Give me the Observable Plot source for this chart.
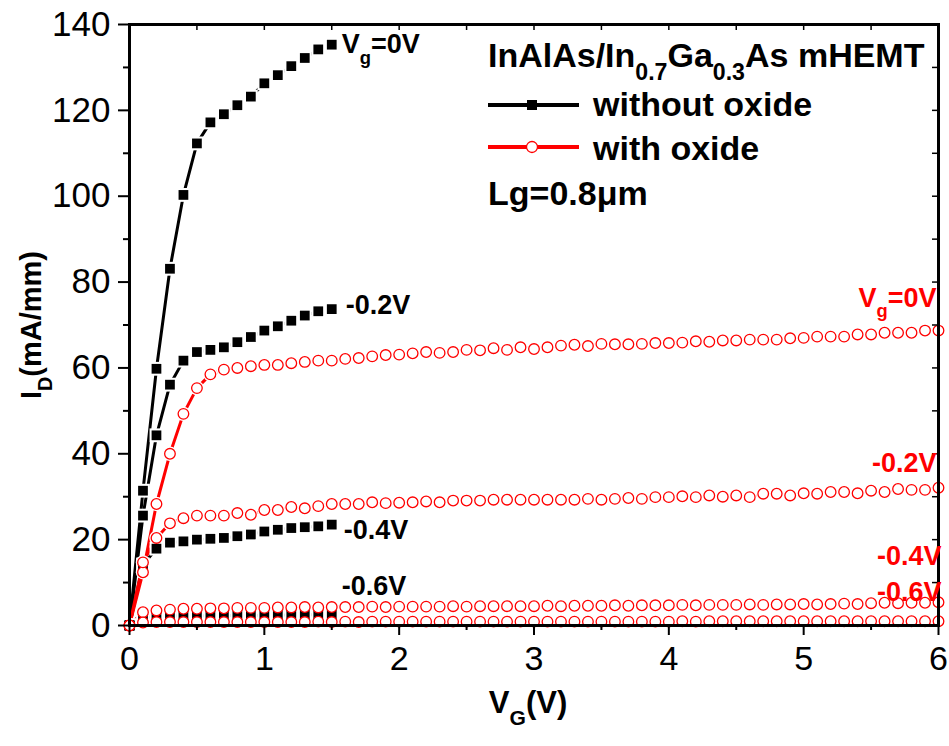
<!DOCTYPE html>
<html><head><meta charset="utf-8">
<script src="https://cdn.jsdelivr.net/npm/d3@7"></script>
<script src="https://cdn.jsdelivr.net/npm/@observablehq/plot@0.6"></script>
<style>
body{margin:0;background:#fff}
#chart svg{font-family:"Liberation Sans",Arial,sans-serif;display:block}
</style>
</head><body><div id="chart"></div>
<script>
// ---- data ----
const vdsNoOx = [0,0.1,0.2,0.3,0.4,0.5,0.6,0.7,0.8,0.9,1.0,1.1,1.2,1.3,1.4,1.5];
const noOx_0   = [0,31.4,59.8,83.1,100.3,112.3,117.2,119.1,121.2,123.2,126.3,128.2,130.3,132.2,134.2,135.3];
const noOx_m02 = [0,25.6,44.3,56.1,61.7,63.7,64.2,64.8,66.0,67.2,68.7,69.7,71.0,72.2,73.2,73.7];
const noOx_m04 = [0,14.2,17.9,19.3,19.6,20.0,20.2,20.4,20.8,21.2,21.9,22.3,22.7,22.9,23.1,23.5];
const noOx_m06 = [0,1.8,2.2,2.2,2.3,2.3,2.3,2.3,2.4,2.4,2.4,2.4,2.5,2.5,2.5,2.5];

const vdsOx = d3.range(61).map(i => +(i / 10).toFixed(1));
const ox_0 = [0,12.4,28.3,40.0,49.3,55.3,58.5,59.6,60.0,60.4,
  60.7,60.7,61.1,61.4,61.7,61.7,62.1,62.3,62.7,63.0,
  63.1,63.4,63.7,63.5,63.7,64.2,64.1,64.6,64.2,64.8,
  64.4,64.8,65.2,65.4,65.1,65.6,65.5,65.5,65.6,65.8,
  65.8,65.9,66.2,66.1,66.4,66.4,66.6,66.6,66.6,66.9,
  67.0,67.3,67.3,67.3,67.8,67.8,68.2,68.2,68.2,68.7,68.7];
const ox_m02 = [0,14.7,20.4,23.8,25.0,25.6,25.6,25.6,26.2,25.8,
  26.9,26.9,27.6,27.3,27.8,28.3,28.3,28.3,28.7,28.5,
  28.6,28.7,28.9,28.7,29.1,29.1,29.1,29.3,29.3,29.3,
  29.3,29.3,29.3,29.3,29.5,29.3,29.5,29.7,29.5,29.9,
  29.9,30.1,29.9,30.3,30.0,30.3,29.9,30.7,30.7,30.3,
  30.8,30.7,31.1,31.1,30.8,31.4,31.1,31.8,31.6,31.6,32.1];
const ox_m04 = [0,3.1,3.5,3.7,3.9,3.9,4.0,4.0,4.1,4.1,
  4.1,4.2,4.2,4.3,4.2,4.3,4.3,4.3,4.4,4.3,
  4.4,4.4,4.4,4.4,4.5,4.4,4.5,4.5,4.5,4.5,
  4.5,4.6,4.5,4.6,4.6,4.6,4.7,4.6,4.7,4.7,
  4.7,4.8,4.7,4.8,4.8,4.8,4.9,4.8,4.9,4.9,
  5.0,4.9,5.0,5.1,5.0,5.2,5.3,5.2,5.3,5.3,5.4];
const ox_m06 = [0,0.7,0.8,0.8,0.8,0.8,0.8,0.8,0.8,0.8,
  0.8,0.8,0.8,0.8,0.9,0.8,0.9,0.8,0.9,0.9,
  0.9,0.9,0.9,0.9,0.9,0.9,0.9,0.9,0.9,0.9,
  0.9,0.9,0.9,0.9,0.9,0.9,0.9,0.9,0.9,0.9,
  0.9,1.0,0.9,1.0,1.0,1.0,1.0,1.0,1.0,1.0,
  1.0,1.0,1.0,1.0,1.0,1.0,1.0,1.0,1.0,1.0,1.0];

const gateLabels = ["V_{g}=0V", "-0.2V", "-0.4V", "-0.6V"];
const seriesNames = ["without oxide", "with oxide"];
const xTicks = [0,1,2,3,4,5,6];
const yTicks = [0,20,40,60,80,100,120,140];
const legendTitle = "InAlAs/In_{0.7}Ga_{0.3}As mHEMT";
const gateLengthNote = "Lg=0.8\u03bcm";
const xLabel = "V_{G}(V)";
const yLabel = "I_{D}(mA/mm)";

// ---- tidy rows ----
const noOxSets = [noOx_0, noOx_m02, noOx_m04, noOx_m06];
const oxSets = [ox_0, ox_m02, ox_m04, ox_m06];
const black = noOxSets.flatMap((arr, k) => arr.map((v, i) => ({x: vdsNoOx[i], y: v, s: k})));
const red = oxSets.flatMap((arr, k) => arr.map((v, i) => ({x: vdsOx[i], y: v, s: k})));
const blackEnds = noOxSets.map((arr, k) => ({x: vdsNoOx[arr.length - 1], y: arr[arr.length - 1], t: gateLabels[k]}));
const redEnds = oxSets.map((arr, k) => ({x: vdsOx[arr.length - 1], y: arr[arr.length - 1], t: gateLabels[k]}));

const RED = "#ff0000";
const W = 949, H = 746, ML = 129, MR = 11, MT = 24, MB = 121;
const PW = W - ML - MR, PH = H - MT - MB;

const lblB = {fontWeight: "bold", fontSize: 27, fill: "black", lineAnchor: "middle"};
const lblR = {fontWeight: "bold", fontSize: 27, fill: RED, lineAnchor: "middle", textAnchor: "end"};
const intFmt = d3.format("d");

const chart = Plot.plot({
  width: W, height: H,
  marginLeft: ML, marginRight: MR, marginTop: MT, marginBottom: MB,
  x: {domain: [0, 6]},
  y: {domain: [0, 140]},
  style: {fontFamily: '"Liberation Sans", Arial, sans-serif', background: "white", color: "black"},
  marks: [
    Plot.line(black, {x: "x", y: "y", z: "s", stroke: "black", strokeWidth: 3}),
    Plot.line(red, {x: "x", y: "y", z: "s", stroke: RED, strokeWidth: 3}),
    Plot.dot(black, {x: "x", y: "y", symbol: "square", r: 7.8, fill: "white"}),
    Plot.dot(red, {x: "x", y: "y", r: 7.2, fill: "white"}),
    Plot.dot(black, {x: "x", y: "y", symbol: "square", r: 5.5, fill: "black"}),
    Plot.dot(red, {x: "x", y: "y", r: 5.3, fill: "white", stroke: RED, strokeWidth: 1.3}),
    // axes
    Plot.axisX({ticks: xTicks, tickSize: 10, tickPadding: 10, fontSize: 34, tickFormat: intFmt, label: null, strokeWidth: 2}),
    Plot.axisX({ticks: d3.range(0.5, 6, 1), tickSize: 5, tickFormat: () => "", label: null, strokeWidth: 2}),
    Plot.axisY({ticks: yTicks, tickSize: 11, tickPadding: 8, fontSize: 35, tickFormat: intFmt, label: null, strokeWidth: 2}),
    Plot.axisY({ticks: d3.range(10, 140, 20), tickSize: 6, tickFormat: () => "", label: null, strokeWidth: 2}),
    Plot.ruleX(d3.range(0.5, 6, 0.5), {insetBottom: PH - 6, stroke: "black", strokeWidth: 1.5}),
    Plot.ruleY(d3.range(10, 140, 10), {insetLeft: PW - 6, stroke: "black", strokeWidth: 1.5}),
    Plot.frame({stroke: "black", strokeWidth: 3}),
    // curve labels
    Plot.text([blackEnds[0]], {x: "x", y: "y", text: "t", ...lblB, textAnchor: "start", dx: 10, dy: 0}),
    Plot.text([blackEnds[1]], {x: "x", y: "y", text: "t", ...lblB, textAnchor: "start", dx: 14, dy: -4}),
    Plot.text([blackEnds[2]], {x: "x", y: "y", text: "t", ...lblB, textAnchor: "start", dx: 12, dy: 6}),
    Plot.text([blackEnds[3]], {x: "x", y: "y", text: "t", ...lblB, textAnchor: "start", dx: 10, dy: -28}),
    Plot.text([redEnds[0]], {x: "x", y: "y", text: "t", ...lblR, dx: -2, dy: -32}),
    Plot.text([redEnds[1]], {x: "x", y: "y", text: "t", ...lblR, dx: -2, dy: -24}),
    Plot.text([redEnds[2]], {x: "x", y: "y", text: "t", ...lblR, dx: 3, dy: -46}),
    Plot.text([redEnds[3]], {x: "x", y: "y", text: "t", ...lblR, dx: 3, dy: -29})
  ]
});
document.getElementById("chart").appendChild(chart);

const svg = d3.select(chart);
const ns = "http://www.w3.org/2000/svg";

function richify(el, fs) {
  const s = el.textContent;
  if (!s.includes("_{")) return;
  el.textContent = "";
  const parts = s.split(/(_\{[^}]*\})/);
  let down = 0;
  for (const p of parts) {
    if (!p) continue;
    const t = document.createElementNS(ns, "tspan");
    if (p.startsWith("_{")) {
      t.textContent = p.slice(2, -1);
      t.setAttribute("font-size", fs * 0.68);
      down = fs * 0.38;
      t.setAttribute("dy", down);
    } else {
      t.textContent = p;
      if (down) { t.setAttribute("dy", -down); down = 0; }
    }
    el.appendChild(t);
  }
}
chart.querySelectorAll("text").forEach(el => richify(el, 27));

// legend & axis titles
const g = svg.append("g").attr("font-weight", "bold").attr("fill", "black").attr("text-anchor", "start");
function addText(str, x, y, size, attrs = {}) {
  const t = g.append("text").attr("x", x).attr("y", y).attr("font-size", size).text(str);
  for (const k in attrs) t.attr(k, attrs[k]);
  richify(t.node(), size);
  return t;
}
addText(legendTitle, 488, 67, 34);
g.append("line").attr("x1", 488).attr("x2", 579).attr("y1", 105).attr("y2", 105).attr("stroke", "black").attr("stroke-width", 4);
g.append("rect").attr("x", 527).attr("y", 100).attr("width", 10).attr("height", 10).attr("fill", "black");
addText(seriesNames[0], 593, 116, 34);
g.append("line").attr("x1", 488).attr("x2", 579).attr("y1", 147).attr("y2", 147).attr("stroke", RED).attr("stroke-width", 4);
g.append("circle").attr("cx", 532).attr("cy", 147).attr("r", 5.5).attr("fill", "white").attr("stroke", RED).attr("stroke-width", 1.3);
addText(seriesNames[1], 593, 160, 34);
addText(gateLengthNote, 488, 205, 34);

addText(xLabel, 528, 713, 31, {"text-anchor": "middle"});
addText(yLabel, 0, 0, 29, {"text-anchor": "middle", transform: "translate(41,325) rotate(-90)"});
</script>
</body></html>
